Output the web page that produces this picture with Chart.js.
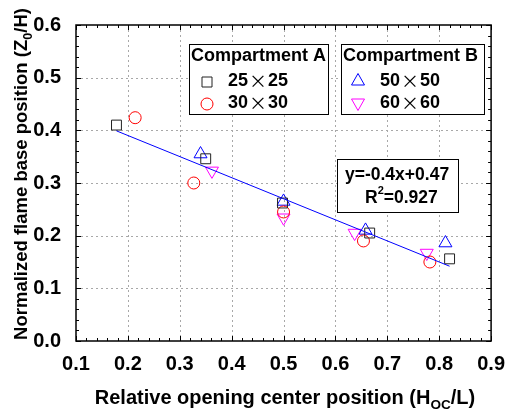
<!DOCTYPE html>
<html lang="en">
<head>
    <meta charset="UTF-8">
    <title>Flame base position</title>
    <script src="https://cdn.jsdelivr.net/npm/chart.js"></script>
    <style>
        body { margin: 0; background: #fff; }
        #wrap { width: 508px; height: 415px; }
    </style>
</head>
<body>
    <div id="wrap"><canvas id="chart" width="508" height="415"></canvas></div>
    <script>
        const sq25X = [0.178, 0.350, 0.498, 0.666, 0.820];
        const sq25Y = [0.410, 0.346, 0.262, 0.205, 0.156];
        const ci30X = [0.214, 0.327, 0.500, 0.654, 0.782];
        const ci30Y = [0.424, 0.300, 0.245, 0.190, 0.150];
        const tr50X = [0.340, 0.500, 0.658, 0.812];
        const tr50Y = [0.355, 0.265, 0.210, 0.186];
        const tr60X = [0.362, 0.500, 0.637, 0.776];
        const tr60Y = [0.323, 0.234, 0.205, 0.167];
        // linear fit end points
        const fitX = [0.178, 0.820];
        const fitY = [0.399, 0.142];
        const xMin = 0.1, xMax = 0.9, yMin = 0.0, yMax = 0.6;

        const pts = (xs, ys) => xs.map((x, i) => ({x: x, y: ys[i]}));
        const FONT = 'Arial, "Liberation Sans", sans-serif';

        function drawSubText(ctx, parts, x, y, size, align) {
            // parts: [text, isSub]
            let total = 0;
            parts.forEach(p => {
                ctx.font = 'bold ' + (p[1] ? size * 0.68 : size) + 'px ' + FONT;
                total += ctx.measureText(p[0]).width;
            });
            let cx = align === 'center' ? x - total / 2 : x;
            ctx.textBaseline = 'middle';
            ctx.textAlign = 'left';
            parts.forEach(p => {
                ctx.font = 'bold ' + (p[1] ? size * 0.68 : size) + 'px ' + FONT;
                ctx.fillText(p[0], cx, p[1] ? y + size * 0.35 : y);
                cx += ctx.measureText(p[0]).width;
            });
        }

        function marker(ctx, style, x, y, color) {
            ctx.save();
            ctx.strokeStyle = color;
            ctx.lineWidth = 1;
            ctx.beginPath();
            if (style === 'rect') {
                ctx.rect(x - 5, y - 5, 10, 10);
            } else if (style === 'circle') {
                ctx.arc(x, y, 6, 0, Math.PI * 2);
            } else if (style === 'up') {
                ctx.moveTo(x, y - 7.5); ctx.lineTo(x + 6.5, y + 4); ctx.lineTo(x - 6.5, y + 4); ctx.closePath();
            } else {
                ctx.moveTo(x, y + 7.5); ctx.lineTo(x + 6.5, y - 4); ctx.lineTo(x - 6.5, y - 4); ctx.closePath();
            }
            ctx.stroke();
            ctx.restore();
        }

        // "25×25" with a wide cross
        function sizeLabel(ctx, a, b, x, y) {
            ctx.font = 'bold 18px ' + FONT;
            ctx.fillText(a, x, y);
            let cx = x + ctx.measureText(a).width + 1;
            ctx.font = '18px "Noto Sans CJK SC", ' + FONT;
            ctx.fillText('\u00d7', cx, y);
            cx += ctx.measureText('\u00d7').width + 1;
            ctx.font = 'bold 18px ' + FONT;
            ctx.fillText(b, cx, y);
        }

        const gridPlugin = {
            id: 'dotgrid',
            beforeDatasetsDraw(chart) {
                const ctx = chart.ctx;
                const a = chart.chartArea;
                const xs = chart.scales.x, ys = chart.scales.y;
                ctx.save();
                ctx.strokeStyle = '#a8a8a8';
                ctx.lineWidth = 1;
                ctx.setLineDash([2, 3]);
                ctx.beginPath();
                for (let i = 1; i < 8; i++) {
                    const px = Math.round(xs.getPixelForValue(xMin + i * 0.1)) + 0.5;
                    ctx.moveTo(px, a.top); ctx.lineTo(px, a.bottom);
                }
                for (let i = 1; i < 6; i++) {
                    const py = Math.round(ys.getPixelForValue(yMin + i * 0.1)) + 0.5;
                    ctx.moveTo(a.left, py); ctx.lineTo(a.right, py);
                }
                ctx.stroke();
                ctx.restore();
            }
        };

        const framePlugin = {
            id: 'frame',
            afterDraw(chart) {
                const ctx = chart.ctx;
                const a = chart.chartArea;
                const xs = chart.scales.x, ys = chart.scales.y;
                ctx.save();
                ctx.strokeStyle = '#000';
                ctx.lineWidth = 1.5;
                ctx.strokeRect(a.left, a.top, a.right - a.left, a.bottom - a.top);
                ctx.lineWidth = 1;
                ctx.beginPath();
                for (let i = 0; i <= 40; i++) {
                    const px = Math.round(xs.getPixelForValue(xMin + i * 0.02)) + 0.5;
                    const len = i % 5 === 0 ? 5 : 3;
                    ctx.moveTo(px, a.bottom); ctx.lineTo(px, a.bottom - len);
                    ctx.moveTo(px, a.top); ctx.lineTo(px, a.top + len);
                }
                for (let i = 0; i <= 30; i++) {
                    const py = Math.round(ys.getPixelForValue(yMin + i * 0.02)) + 0.5;
                    const len = i % 5 === 0 ? 5 : 3;
                    ctx.moveTo(a.left, py); ctx.lineTo(a.left + len, py);
                    ctx.moveTo(a.right, py); ctx.lineTo(a.right - len, py);
                }
                ctx.stroke();

                // axis titles
                ctx.fillStyle = '#000';
                drawSubText(ctx, [['Relative opening center position (H', false], ['OC', true], ['/L)', false]],
                    285, 398, 20, 'center');
                ctx.save();
                ctx.translate(22, 174);
                ctx.rotate(-Math.PI / 2);
                drawSubText(ctx, [['Normalized flame base position (Z', false], ['0', true], ['/H)', false]],
                    0, 0, 18.5, 'center');
                ctx.restore();

                // legend boxes
                ctx.lineWidth = 1;
                ctx.strokeStyle = '#000';
                ctx.fillStyle = '#fff';
                ctx.fillRect(189, 44, 139, 70);
                ctx.strokeRect(189.5, 44.5, 139, 70);
                ctx.fillRect(341, 44, 143, 70);
                ctx.strokeRect(341.5, 44.5, 143, 70);
                ctx.fillStyle = '#000';
                ctx.textBaseline = 'middle';
                ctx.textAlign = 'left';
                ctx.font = 'bold 18px ' + FONT;
                ctx.fillText('Compartment A', 191, 56);
                ctx.fillText('Compartment B', 343, 56);
                sizeLabel(ctx, '25', '25', 228, 81);
                sizeLabel(ctx, '30', '30', 228, 103);
                sizeLabel(ctx, '50', '50', 380, 81);
                sizeLabel(ctx, '60', '60', 380, 103);
                marker(ctx, 'rect', 207, 82, '#222');
                marker(ctx, 'circle', 207, 104, '#ff0000');
                marker(ctx, 'up', 358, 81, '#0000ff');
                marker(ctx, 'down', 358, 103, '#ff00ff');

                // fit equation box
                ctx.fillStyle = '#fff';
                ctx.fillRect(337, 159, 121, 53);
                ctx.strokeRect(337.5, 159.5, 121, 53);
                ctx.fillStyle = '#000';
                ctx.textAlign = 'left';
                ctx.font = 'bold 17.5px ' + FONT;
                ctx.fillText('y=-0.4x+0.47', 345, 175);
                ctx.fillText('R', 365, 198);
                const rw = ctx.measureText('R').width;
                ctx.font = 'bold 11px ' + FONT;
                ctx.fillText('2', 365 + rw, 191);
                const tw = ctx.measureText('2').width;
                ctx.font = 'bold 17.5px ' + FONT;
                ctx.fillText('=0.927', 365 + rw + tw, 198);
                ctx.restore();
            }
        };

        const ctx = document.getElementById('chart').getContext('2d');
        new Chart(ctx, {
            type: 'scatter',
            data: {
                datasets: [
                    {
                        label: 'fit',
                        type: 'line',
                        data: pts(fitX, fitY),
                        borderColor: '#0000ff',
                        borderWidth: 1,
                        pointRadius: 0,
                        fill: false
                    },
                    {
                        label: '25\u00d725',
                        data: pts(sq25X, sq25Y),
                        pointStyle: 'rect',
                        pointRadius: 7,
                        borderColor: '#222',
                        backgroundColor: 'transparent',
                        borderWidth: 1
                    },
                    {
                        label: '30\u00d730',
                        data: pts(ci30X, ci30Y),
                        pointStyle: 'circle',
                        pointRadius: 6,
                        borderColor: '#ff0000',
                        backgroundColor: 'transparent',
                        borderWidth: 1
                    },
                    {
                        label: '50\u00d750',
                        data: pts(tr50X, tr50Y),
                        pointStyle: 'triangle',
                        pointRadius: 7.5,
                        borderColor: '#0000ff',
                        backgroundColor: 'transparent',
                        borderWidth: 1
                    },
                    {
                        label: '60\u00d760',
                        data: pts(tr60X, tr60Y),
                        pointStyle: 'triangle',
                        rotation: 180,
                        pointRadius: 7.5,
                        borderColor: '#ff00ff',
                        backgroundColor: 'transparent',
                        borderWidth: 1
                    }
                ]
            },
            options: {
                responsive: false,
                animation: false,
                layout: { padding: { top: 25, right: 0, left: 0, bottom: 0 } },
                plugins: {
                    legend: { display: false },
                    tooltip: { enabled: false }
                },
                scales: {
                    x: {
                        type: 'linear',
                        min: xMin,
                        max: xMax,
                        ticks: {
                            stepSize: 0.1,
                            color: '#000',
                            padding: 3,
                            font: { family: FONT, size: 20, weight: 'bold' },
                            callback: v => v.toFixed(1)
                        },
                        grid: { display: false },
                        border: { display: false },
                        afterFit: s => { s.height = 74; }
                    },
                    y: {
                        min: yMin,
                        max: yMax,
                        ticks: {
                            stepSize: 0.1,
                            color: '#000',
                            padding: 7,
                            font: { family: FONT, size: 20, weight: 'bold' },
                            callback: v => v.toFixed(1)
                        },
                        grid: { display: false },
                        border: { display: false },
                        afterFit: s => { s.width = 76; }
                    }
                }
            },
            plugins: [gridPlugin, framePlugin]
        });
    </script>
</body>
</html>
